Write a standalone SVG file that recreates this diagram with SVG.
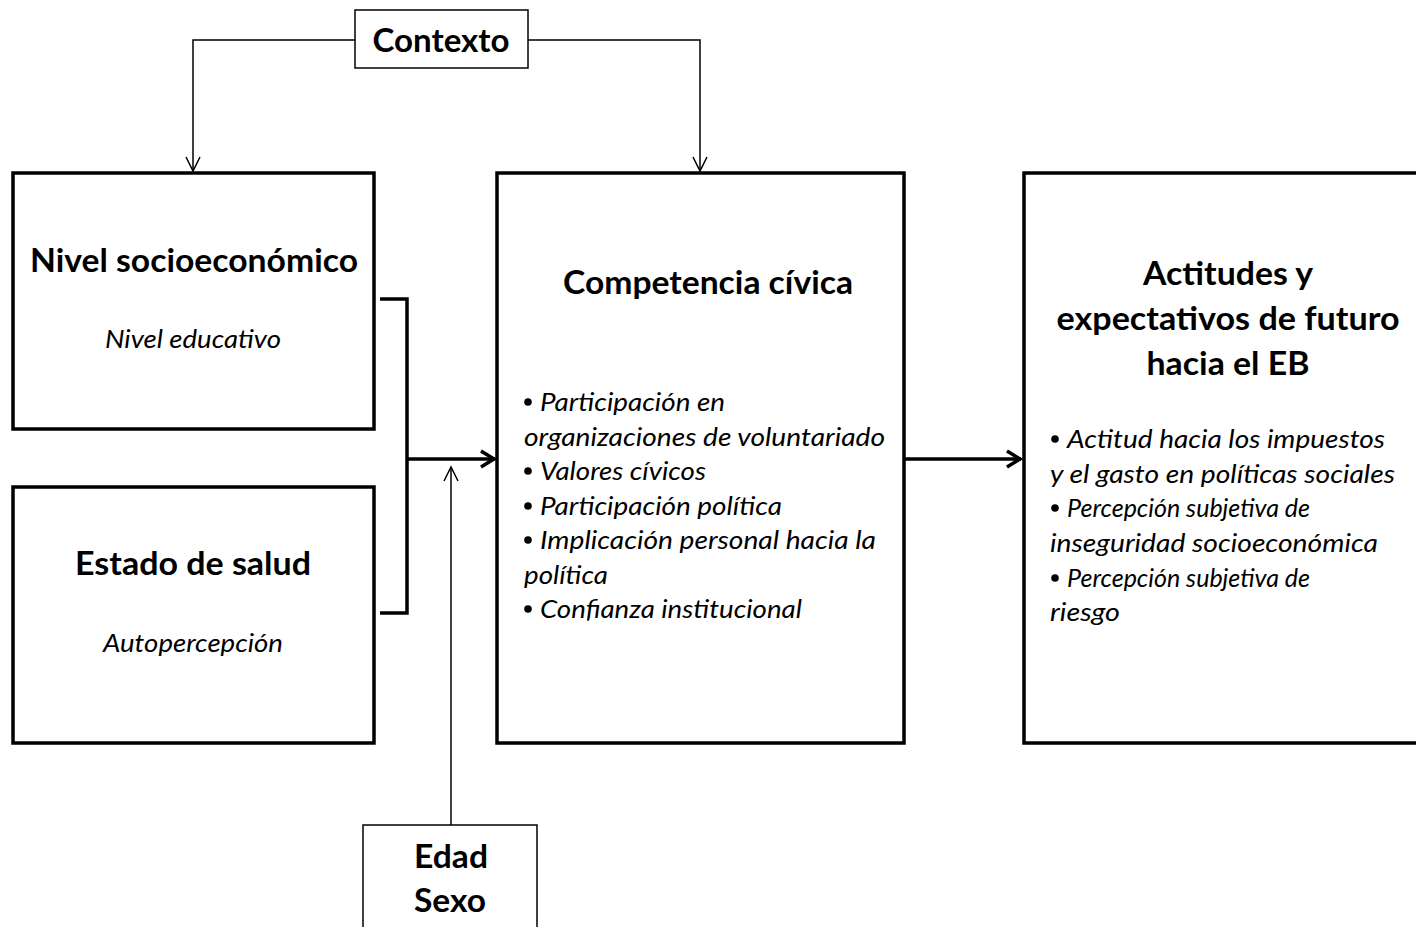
<svg xmlns="http://www.w3.org/2000/svg" width="1416" height="927" viewBox="0 0 1416 927">
  <style>
    .box { fill: #fff; stroke: #000; stroke-width: 3.5; }
    .tbox { fill: #fff; stroke: #000; stroke-width: 1.5; }
    .title { font-family: Lato, "Liberation Sans", sans-serif; font-weight: bold; font-size: 32.5px; fill: #000; text-anchor: middle; }
    .sub { font-family: Lato, "Liberation Sans", sans-serif; font-style: italic; font-size: 24.5px; fill: #000; text-anchor: middle; }
    .item { font-family: Lato, "Liberation Sans", sans-serif; font-style: italic; font-size: 24.5px; fill: #000; }
    .dot { fill: #000; }
    .thick { fill: none; stroke: #000; stroke-width: 3.5; }
    .thin { fill: none; stroke: #000; stroke-width: 1.5; }
  </style>
  <defs>
    <marker id="headThick" markerUnits="userSpaceOnUse" markerWidth="20" markerHeight="20" viewBox="-16 -10 20 20" refX="0" refY="0" orient="auto">
      <path d="M-14,-8 L-1,0 L-14,8" fill="none" stroke="#000" stroke-width="3.5" stroke-linejoin="miter"/>
    </marker>
    <marker id="headThin" markerUnits="userSpaceOnUse" markerWidth="20" markerHeight="20" viewBox="-16 -10 20 20" refX="0" refY="0" orient="auto">
      <path d="M-14,-7 L0,0 L-14,7" fill="none" stroke="#000" stroke-width="1.5"/>
    </marker>
  </defs>

  <rect width="1416" height="927" fill="#fff"/>

  <!-- connectors -->
  <g id="connectors">
    <path class="thin" d="M355,40 H193 V171" marker-end="url(#headThin)"/>
    <path class="thin" d="M528,40 H700 V171" marker-end="url(#headThin)"/>
    <path class="thick" d="M380,299 H407 V613 H380"/>
    <path class="thick" d="M407,459 H495" marker-end="url(#headThick)"/>
    <path class="thick" d="M905,459 H1021" marker-end="url(#headThick)"/>
    <path class="thin" d="M451,825 V467" marker-end="url(#headThin)"/>
  </g>

  <!-- Contexto -->
  <g id="contexto">
    <rect class="tbox" x="355" y="10" width="173" height="58"/>
    <text class="title" x="441" y="52" textLength="137" lengthAdjust="spacingAndGlyphs">Contexto</text>
  </g>

  <!-- Nivel socioeconómico -->
  <g id="nivel">
    <rect class="box" x="13" y="173" width="361" height="256"/>
    <text class="title" x="194" y="272" textLength="328" lengthAdjust="spacingAndGlyphs">Nivel socioeconómico</text>
    <text class="sub" x="193" y="348" textLength="176" lengthAdjust="spacingAndGlyphs">Nivel educativo</text>
  </g>

  <!-- Estado de salud -->
  <g id="salud">
    <rect class="box" x="13" y="487" width="361" height="256"/>
    <text class="title" x="193" y="575" textLength="236" lengthAdjust="spacingAndGlyphs">Estado de salud</text>
    <text class="sub" x="193" y="652" textLength="180" lengthAdjust="spacingAndGlyphs">Autopercepción</text>
  </g>

  <!-- Competencia cívica -->
  <g id="competencia">
    <rect class="box" x="497" y="173" width="407" height="570"/>
    <text class="title" x="708" y="294" textLength="290" lengthAdjust="spacingAndGlyphs">Competencia cívica</text>
    <circle class="dot" cx="528" cy="402" r="3.8"/>
    <text class="item" x="540" y="411" textLength="185" lengthAdjust="spacingAndGlyphs">Participación en</text>
    <text class="item" x="524" y="446" textLength="361" lengthAdjust="spacingAndGlyphs">organizaciones de voluntariado</text>
    <circle class="dot" cx="528" cy="471" r="3.8"/>
    <text class="item" x="540" y="480" textLength="166" lengthAdjust="spacingAndGlyphs">Valores cívicos</text>
    <circle class="dot" cx="528" cy="506" r="3.8"/>
    <text class="item" x="540" y="515" textLength="242" lengthAdjust="spacingAndGlyphs">Participación política</text>
    <circle class="dot" cx="528" cy="540" r="3.8"/>
    <text class="item" x="540" y="549" textLength="336" lengthAdjust="spacingAndGlyphs">Implicación personal hacia la</text>
    <text class="item" x="524" y="584" textLength="84" lengthAdjust="spacingAndGlyphs">política</text>
    <circle class="dot" cx="528" cy="609" r="3.8"/>
    <text class="item" x="540" y="618" textLength="262" lengthAdjust="spacingAndGlyphs">Confianza institucional</text>
  </g>

  <!-- Actitudes y expectativas -->
  <g id="actitudes">
    <rect class="box" x="1024" y="173" width="420" height="570"/>
    <text class="title" x="1228" y="285" textLength="170" lengthAdjust="spacingAndGlyphs">Actitudes y</text>
    <text class="title" x="1228" y="330" textLength="343" lengthAdjust="spacingAndGlyphs">expectativos de futuro</text>
    <text class="title" x="1228" y="375" textLength="163" lengthAdjust="spacingAndGlyphs">hacia el EB</text>
    <circle class="dot" cx="1055" cy="439" r="3.8"/>
    <text class="item" x="1067" y="448" textLength="318" lengthAdjust="spacingAndGlyphs">Actitud hacia los impuestos</text>
    <text class="item" x="1050" y="483" textLength="345" lengthAdjust="spacingAndGlyphs">y el gasto en políticas sociales</text>
    <circle class="dot" cx="1055" cy="508" r="3.8"/>
    <text class="item" x="1067" y="517" textLength="243" lengthAdjust="spacingAndGlyphs">Percepción subjetiva de</text>
    <text class="item" x="1050" y="552" textLength="328" lengthAdjust="spacingAndGlyphs">inseguridad socioeconómica</text>
    <circle class="dot" cx="1055" cy="578" r="3.8"/>
    <text class="item" x="1067" y="587" textLength="243" lengthAdjust="spacingAndGlyphs">Percepción subjetiva de</text>
    <text class="item" x="1050" y="621" textLength="70" lengthAdjust="spacingAndGlyphs">riesgo</text>
  </g>

  <!-- Edad / Sexo -->
  <g id="edad">
    <rect class="tbox" x="363" y="825" width="174" height="120"/>
    <text class="title" x="451" y="868" textLength="74" lengthAdjust="spacingAndGlyphs">Edad</text>
    <text class="title" x="450" y="912" textLength="72" lengthAdjust="spacingAndGlyphs">Sexo</text>
  </g>
</svg>
